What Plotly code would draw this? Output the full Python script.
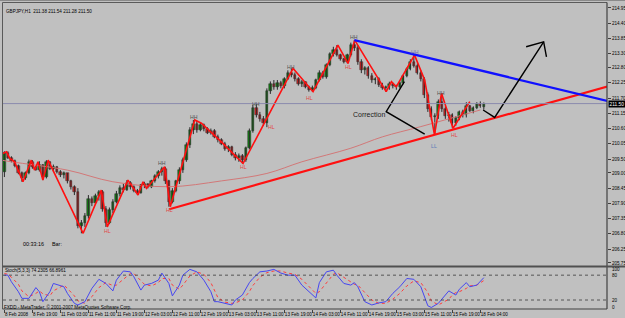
import plotly.graph_objects as go

# ---------------- data ----------------
bar_idx = list(range(138))
opens = [209.05,209.70,209.55,209.42,209.25,209.00,208.80,209.00,209.40,209.20,209.12,209.30,208.85,
         209.38,209.15,209.22,209.02,208.92,208.98,208.70,208.48,208.30,207.10,207.20,207.45,208.05,
         207.90,208.15,208.30,207.70,207.20,207.65,207.95,208.25,208.45,208.40,208.62,208.48,208.35,
         208.28,208.55,208.60,208.50,208.70,208.90,209.05,209.15,208.70,207.95,208.35,208.70,209.10,
         209.45,210.00,210.55,210.75,210.55,210.72,210.58,210.45,210.52,210.30,210.18,210.05,209.85,
         209.92,209.65,209.55,209.62,209.45,209.90,210.50,211.35,211.10,210.95,210.80,211.95,212.20,
         212.10,212.25,212.12,212.40,212.62,212.55,212.38,212.22,212.28,212.10,212.00,212.08,212.35,
         212.62,212.45,212.90,213.28,213.45,213.25,213.10,213.00,213.25,213.60,213.50,213.00,212.70,
         212.80,212.50,212.35,212.40,212.18,212.05,212.10,212.20,212.12,212.10,212.25,212.50,212.75,
         213.00,212.85,212.60,212.40,211.80,211.30,211.00,211.05,211.55,211.30,211.05,211.10,210.80,
         210.98,211.18,211.08,211.40,211.25,211.35,211.50,211.38]
highs = [209.78,209.78,209.60,209.48,209.30,209.05,209.05,209.48,209.46,209.25,209.42,209.32,209.46,
         209.42,209.30,209.25,209.10,209.05,209.00,208.75,208.55,208.45,207.30,207.55,208.20,208.15,
         208.25,208.38,208.38,207.80,207.75,208.05,208.35,208.55,208.60,208.74,208.70,208.55,208.42,
         208.60,208.68,208.62,208.75,208.95,209.10,209.22,209.22,208.75,208.45,208.75,209.20,209.55,
         210.10,210.65,210.91,210.88,210.82,210.78,210.65,210.60,210.58,210.38,210.25,210.12,210.00,
         209.98,209.75,209.70,209.68,209.95,210.60,211.45,211.48,211.20,211.05,212.05,212.30,212.35,
         212.35,212.32,212.45,212.70,212.77,212.62,212.45,212.35,212.30,212.15,212.15,212.40,212.70,
         212.68,212.95,213.35,213.55,213.61,213.30,213.15,213.30,213.70,213.79,213.60,213.10,212.85,
         212.85,212.60,212.45,212.45,212.25,212.15,212.29,212.25,212.18,212.30,212.55,212.80,213.10,
         213.25,212.95,212.70,212.45,211.90,211.40,211.15,211.65,211.87,211.40,211.20,211.15,211.05,
         211.25,211.28,211.55,211.45,211.40,211.55,211.58,211.54]
lows = [208.85,209.50,209.38,209.20,208.95,208.68,208.75,208.95,209.15,209.08,209.05,208.74,208.80,
        209.10,209.05,208.98,208.85,208.80,208.62,208.40,208.20,207.00,206.82,207.05,207.35,207.80,
        207.85,208.00,207.60,207.05,207.15,207.55,207.90,208.15,208.30,208.35,208.40,208.30,208.20,
        208.25,208.45,208.44,208.45,208.65,208.80,208.90,208.60,207.78,207.90,208.30,208.60,209.00,
        209.40,209.90,210.40,210.45,210.50,210.50,210.40,210.38,210.25,210.10,210.00,209.80,209.75,
        209.60,209.45,209.40,209.34,209.40,209.85,210.45,211.00,210.85,210.70,210.65,211.85,212.00,
        212.00,212.05,212.05,212.35,212.45,212.30,212.15,212.10,212.05,211.93,211.93,212.02,212.30,
        212.40,212.40,212.85,213.20,213.20,213.05,212.95,212.95,213.20,213.40,212.90,212.60,212.55,
        212.40,212.25,212.20,212.10,212.00,211.93,212.00,212.05,212.00,212.05,212.20,212.45,212.70,
        212.80,212.55,212.30,211.70,211.20,210.90,210.37,210.95,211.20,210.95,210.85,210.61,210.70,
        210.90,211.00,211.00,211.20,211.15,211.30,211.35,211.28]
closes = [209.70,209.55,209.42,209.25,209.00,208.80,209.00,209.40,209.20,209.12,209.30,208.85,209.38,
          209.15,209.22,209.02,208.92,208.98,208.70,208.48,208.30,207.10,207.20,207.45,208.05,207.90,
          208.15,208.30,207.70,207.20,207.65,207.95,208.25,208.45,208.40,208.62,208.48,208.35,208.28,
          208.55,208.60,208.50,208.70,208.90,209.05,209.15,208.70,207.95,208.35,208.70,209.10,209.45,
          210.00,210.55,210.75,210.55,210.72,210.58,210.45,210.52,210.30,210.18,210.05,209.85,209.92,
          209.65,209.55,209.62,209.45,209.90,210.50,211.35,211.10,210.95,210.80,211.95,212.20,212.10,
          212.25,212.12,212.40,212.62,212.55,212.38,212.22,212.28,212.10,212.00,212.08,212.35,212.62,
          212.45,212.90,213.28,213.45,213.25,213.10,213.00,213.25,213.60,213.50,213.00,212.70,212.80,
          212.50,212.35,212.40,212.18,212.05,212.10,212.20,212.12,212.10,212.25,212.50,212.75,213.00,
          212.85,212.60,212.40,211.80,211.30,211.00,211.05,211.55,211.30,211.05,211.10,210.80,210.98,
          211.18,211.08,211.40,211.25,211.35,211.50,211.42,211.50]

# zigzag pivots (bar index, price)
zz_x = [-0.4,0.6,1.5,2.9,5.3,7.7,8.6,9.6,11.0,12.5,22.5,27.7,29.4,35.3,38.2,39.6,40.6,45.8,47.4,
        54.4,56.3,62.0,68.2,82.5,88.2,95.3,98.2,100.1,109.1,110.6,112.0,117.2,120.1,122.9,124.9,128.2,133.0]
zz_y = [209.70,209.76,209.53,209.40,208.68,209.46,209.10,209.40,208.74,209.46,206.82,208.38,207.05,
        208.74,208.20,208.68,208.44,209.22,207.78,210.91,210.79,210.12,209.34,212.77,211.93,213.61,
        212.95,213.79,211.93,212.29,212.11,213.25,212.35,210.37,211.87,210.61,211.57]

# moving average readings
ma_x = [-0.9,2,18,31,47,62,75,85,99,108,119,136]
ma_y = [209.46,209.40,209.10,208.68,208.50,208.71,208.98,209.40,209.89,210.30,210.67,211.27]

# trend lines (bar index, price)
red_trend_x = [47.1, 172.6]
red_trend_y = [207.69, 212.13]
blue_trend_x = [100.0, 172.6]
blue_trend_y = [213.79, 211.59]
corr_x = [114.3, 109.1, 120.1]
corr_y = [212.29, 211.21, 210.40]
arrow_x = [136.8, 140.1, 154.1]
arrow_y = [211.27, 211.00, 213.73]
head_x = [149.1, 154.1, 154.9]
head_y = [213.55, 213.73, 213.19]

bid_price = 211.50

# pattern labels
lbl_text = ["HH","HL","HH","HL","HH","HL","HH","HL","HH","HL","HH","HH","LL","HL","HL"]
lbl_x = [45.1,47.2,54.2,29.4,72.0,76.3,82.0,68.2,100.0,98.2,117.2,124.9,122.9,128.7,87.2]
lbl_y = [209.35,207.66,211.03,206.90,211.48,210.67,212.81,209.22,213.91,212.83,213.37,211.89,209.98,210.37,211.71]
lbl_col = ["#505050","#e04848","#505050","#e04848","#505050","#e04848","#505050","#e04848",
           "#505050","#e04848","#6a6ab8","#505050","#5a78b8","#e04848","#e04848"]

# y axis labels
price_labels = ["214.95","214.40","213.85","213.30","212.80","212.25","211.70","211.15","210.60",
                "210.05","209.50","209.00","208.45","207.90","207.35","206.80","206.25","205.75"]

# time labels
time_pos = [0,8,16,24,32,40,48,56,64,72,80,88,96,104,112,120,128,136]
time_labels = ["8 Feb 2008","8 Feb 19:00","11 Feb 03:00","11 Feb 11:00","11 Feb 19:00","12 Feb 03:00",
               "12 Feb 11:00","12 Feb 19:00","13 Feb 03:00","13 Feb 11:00","13 Feb 19:00","14 Feb 03:00",
               "14 Feb 11:00","14 Feb 19:00","15 Feb 03:00","15 Feb 11:00","15 Feb 19:00","18 Feb 04:00"]

# stochastic readings
st_x = [0,1,2,4,5,7,9,10,11,13,14,17,18,20,21,23,25,27,29,31,32,34,36,37,39,40,42,44,45,47,48,50,51,53,
        55,57,59,60,61,63,65,66,68,70,71,73,75,77,79,81,83,85,87,89,90,92,94,95,97,99,100,101,103,105,
        107,109,111,113,115,117,119,121,122,124,127,128,129,130,132,133,135,137]
st_k = [80,80,64,40,24,24,50,40,16,40,60,52,36,12,8,16,48,70,60,42,68,90,88,76,44,56,60,68,85,60,30,56,
        80,94,88,68,40,16,16,12,8,20,32,62,72,88,90,94,85,80,80,56,40,25,62,88,92,80,60,56,62,52,16,8,
        13,16,36,52,72,70,52,6,2,12,42,38,32,46,62,52,56,74]
st_d = [84,82,75,58,42,28,36,42,35,30,42,56,48,30,18,12,28,50,62,55,56,70,84,84,68,58,54,62,72,72,56,46,
        56,78,88,82,62,42,26,15,12,13,20,40,55,75,86,90,90,85,82,70,52,36,40,60,82,86,75,62,58,56,38,20,
        12,12,22,36,54,66,62,38,18,8,22,32,38,40,48,54,56,67]
st_levels = [80, 20]
st_labels = ["100", "80", "20", "0"]

# ---------------- figure ----------------
W, H = 625, 318
def px_x(p): return p / W
def px_y(p): return 1 - p / H

BG = "#c0c0c0"
FONT = "Liberation Sans, Arial, sans-serif"
GREEN = "#118a11"
RED = "#e42222"

fig = go.Figure()

# wicks
wx, wy = [], []
for i, h, l in zip(bar_idx, highs, lows):
    wx += [i, i, None]
    wy += [l, h, None]
fig.add_trace(go.Scatter(x=wx, y=wy, mode="lines", line=dict(color="#2a2a2a", width=1),
                         hoverinfo="skip", showlegend=False, xaxis="x", yaxis="y"))
# bodies
fig.add_trace(go.Bar(x=bar_idx,
                     y=[max(abs(c - o), 0.012) for o, c in zip(opens, closes)],
                     base=[min(o, c) for o, c in zip(opens, closes)],
                     marker=dict(color=[GREEN if c >= o else RED for o, c in zip(opens, closes)],
                                 line=dict(color="#2a2a2a", width=0.5)),
                     width=0.66, showlegend=False, xaxis="x", yaxis="y"))

# moving average
fig.add_trace(go.Scatter(x=ma_x, y=ma_y, mode="lines", line=dict(color="#d27878", width=1, shape="spline"),
                         showlegend=False, xaxis="x", yaxis="y"))
# zigzag
fig.add_trace(go.Scatter(x=zz_x, y=zz_y, mode="lines", line=dict(color="#ff1010", width=1.6),
                         showlegend=False, xaxis="x", yaxis="y"))
# trend lines
fig.add_trace(go.Scatter(x=red_trend_x, y=red_trend_y, mode="lines", line=dict(color="#ff1010", width=2.2),
                         showlegend=False, xaxis="x", yaxis="y"))
fig.add_trace(go.Scatter(x=blue_trend_x, y=blue_trend_y, mode="lines", line=dict(color="#1010ff", width=2.2),
                         showlegend=False, xaxis="x", yaxis="y"))
for xs, ys in [(corr_x, corr_y), (arrow_x, arrow_y), (head_x, head_y)]:
    fig.add_trace(go.Scatter(x=xs, y=ys, mode="lines", line=dict(color="#000000", width=1.4),
                             showlegend=False, xaxis="x", yaxis="y"))

# stochastic
fig.add_trace(go.Scatter(x=st_x, y=st_d, mode="lines", line=dict(color="#ff3c3c", width=1, dash="dot"),
                         showlegend=False, xaxis="x2", yaxis="y2"))
fig.add_trace(go.Scatter(x=st_x, y=st_k, mode="lines", line=dict(color="#4646f0", width=1),
                         showlegend=False, xaxis="x2", yaxis="y2"))

x_range = [-0.4, 172.2]
shapes = []
# bid line
shapes.append(dict(type="line", xref="paper", yref="y", x0=px_x(3), x1=px_x(607), y0=bid_price, y1=bid_price,
                   line=dict(color="#8a8aae", width=1)))
for lv in st_levels:
    shapes.append(dict(type="line", xref="paper", yref="y2", x0=px_x(3), x1=px_x(607), y0=lv, y1=lv,
                       line=dict(color="#3a3a3a", width=0.8, dash="dot")))
# frames
frame = "#5a5a5a"
shapes += [
    dict(type="line", xref="paper", yref="paper", x0=px_x(2.5), x1=px_x(607), y0=px_y(2.5), y1=px_y(2.5), line=dict(color=frame, width=1)),
    dict(type="line", xref="paper", yref="paper", x0=px_x(2.5), x1=px_x(2.5), y0=px_y(2.5), y1=px_y(309), line=dict(color=frame, width=1)),
    dict(type="line", xref="paper", yref="paper", x0=px_x(607), x1=px_x(607), y0=px_y(2.5), y1=px_y(309), line=dict(color="#404040", width=1.2)),
    dict(type="line", xref="paper", yref="paper", x0=px_x(2.5), x1=px_x(625), y0=px_y(266.5), y1=px_y(266.5), line=dict(color="#505050", width=2)),
    dict(type="line", xref="paper", yref="paper", x0=px_x(2.5), x1=px_x(607), y0=px_y(309), y1=px_y(309), line=dict(color="#404040", width=1)),
    dict(type="line", xref="paper", yref="paper", x0=0, x1=1, y0=px_y(0.5), y1=px_y(0.5), line=dict(color="#8a8a8a", width=1)),
]

ann = []
small = dict(family=FONT, size=4.6, color="#000000")
for t, x, y, c in zip(lbl_text, lbl_x, lbl_y, lbl_col):
    ann.append(dict(x=x, y=y, xref="x", yref="y", text=t, showarrow=False,
                    font=dict(family=FONT, size=5.2, color=c)))
ann.append(dict(x=104.1, y=211.11, xref="x", yref="y", text="Correction", showarrow=False,
                font=dict(family=FONT, size=7, color="#202020")))
ann.append(dict(x=px_x(4), y=px_y(12), xref="paper", yref="paper", xanchor="left", yanchor="middle",
                text="GBPJPY,H1  211.38 211.54 211.28 211.50", showarrow=False, font=small))
ann.append(dict(x=px_x(21), y=px_y(243.5), xref="paper", yref="paper", xanchor="left", yanchor="middle",
                text="00:33:16", showarrow=False, font=dict(family=FONT, size=5.4, color="#000")))
ann.append(dict(x=px_x(50), y=px_y(243.5), xref="paper", yref="paper", xanchor="left", yanchor="middle",
                text="Bar:", showarrow=False, font=dict(family=FONT, size=5.4, color="#000")))
ann.append(dict(x=px_x(3), y=px_y(270.5), xref="paper", yref="paper", xanchor="left", yanchor="middle",
                text="Stoch(5,3,3) 74.2305 66.8961", showarrow=False, font=small))
ann.append(dict(x=px_x(2), y=px_y(306.5), xref="paper", yref="paper", xanchor="left", yanchor="middle",
                text="FXDD - MetaTrader, © 2001-2007 MetaQuotes Software Corp.", showarrow=False, font=small))
# bid label
ann.append(dict(x=px_x(608), y=bid_price, xref="paper", yref="y", xanchor="left", yanchor="middle",
                text=f"{bid_price:.2f}", showarrow=False, bgcolor="#000000", borderpad=0.5,
                font=dict(family=FONT, size=4.8, color="#ffffff")))
# stochastic scale labels
for t, yy in zip(st_labels, [269.3, 275.3, 300.7, 307.3]):
    ann.append(dict(x=px_x(610), y=px_y(yy), xref="paper", yref="paper", xanchor="left", yanchor="middle",
                    text=t, showarrow=False, font=small))

fig.update_layout(
    width=W, height=H, margin=dict(l=0, r=0, t=0, b=0, autoexpand=False),
    paper_bgcolor=BG, plot_bgcolor=BG, barmode="overlay", bargap=0, showlegend=False,
    font=dict(family=FONT, size=5, color="#000"),
    xaxis=dict(domain=[px_x(3), px_x(607)], range=x_range, showticklabels=False, showgrid=False,
               zeroline=False, showline=False, ticks="", automargin=False),
    yaxis=dict(domain=[px_y(266), px_y(3)], range=[205.64, 215.13], side="right",
               tickvals=[float(v) for v in price_labels], ticktext=price_labels,
               ticks="outside", ticklen=3, tickcolor="#404040", tickwidth=1,
               tickfont=dict(family=FONT, size=4.6, color="#000"),
               showgrid=False, zeroline=False, showline=False, automargin=False),
    xaxis2=dict(domain=[px_x(3), px_x(607)], range=x_range, anchor="y2", matches="x",
                tickvals=time_pos, ticktext=time_labels, ticks="outside", ticklen=3, tickcolor="#404040",
                tickangle=0, ticklabelposition="outside right",
                tickfont=dict(family=FONT, size=4.6, color="#000"),
                showgrid=False, zeroline=False, showline=False, automargin=False),
    yaxis2=dict(domain=[px_y(309), px_y(267.5)], range=[-1.7, 98.5], showticklabels=False,
                showgrid=False, zeroline=False, showline=False, ticks="", automargin=False),
    shapes=shapes, annotations=ann,
)

fig.write_html("out.html")
